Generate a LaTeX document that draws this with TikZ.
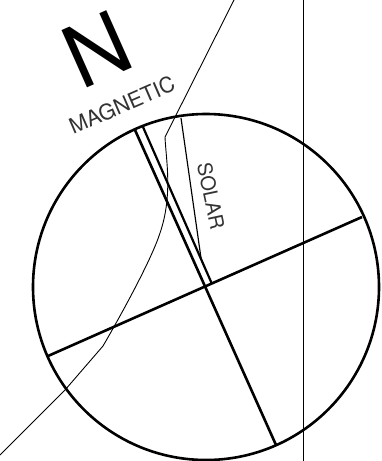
\documentclass[tikz,border=0pt]{standalone}
\usepackage{fontspec}
\setmainfont{TeX Gyre Heros}
\begin{document}
\begin{tikzpicture}[x=1pt,y=-1pt,
  heavy/.style={line width=2.6pt,black},
  thin line/.style={line width=0.9pt,black},
  label text/.style={inner sep=0pt,text=black!80}]
\useasboundingbox (0,0) rectangle (381,461);
\node[circle,draw,heavy,minimum size=346pt,inner sep=0pt] (dial) at (206,287) {};
\coordinate (a1) at (135,130);
\coordinate (a2) at (276,445);
\coordinate (b1) at (143,127);
\coordinate (b2) at (212,284);
\coordinate (c1) at (48,356);
\coordinate (c2) at (362,217);
\draw[heavy] (a1) -- (a2);
\draw[line width=2.2pt] (b1) -- (b2);
\draw[heavy] (c1) -- (c2);
\coordinate (s1) at (181,118);
\coordinate (s2) at (201,258);
\draw[thin line,line width=1.2pt] (s1) -- (s2);
\coordinate (v1) at (303,0);
\coordinate (v2) at (303,461);
\draw[thin line] (v1) -- (v2);
\coordinate (m0) at (234,0);
\coordinate (m1) at (165,137);
\coordinate (m2) at (0,455);
\draw[thin line] (m0) -- (m1) .. controls (166,160) and (173,195) .. (160,233)
  .. controls (152,258) and (125,308) .. (103,346) -- (65,390) -- (m2);
\node[label text,text=black,font=\fontsize{86}{86}\selectfont,rotate=24] (north) at (97,49) {N};
\node[label text,font=\fontsize{21.5}{21.5}\selectfont,rotate=23.5] (mag) at (122,105) {MAGNETIC};
\node[label text,font=\fontsize{20}{20}\selectfont,rotate=-78] (sol) at (211,196) {SOLAR};
\end{tikzpicture}
\end{document}
